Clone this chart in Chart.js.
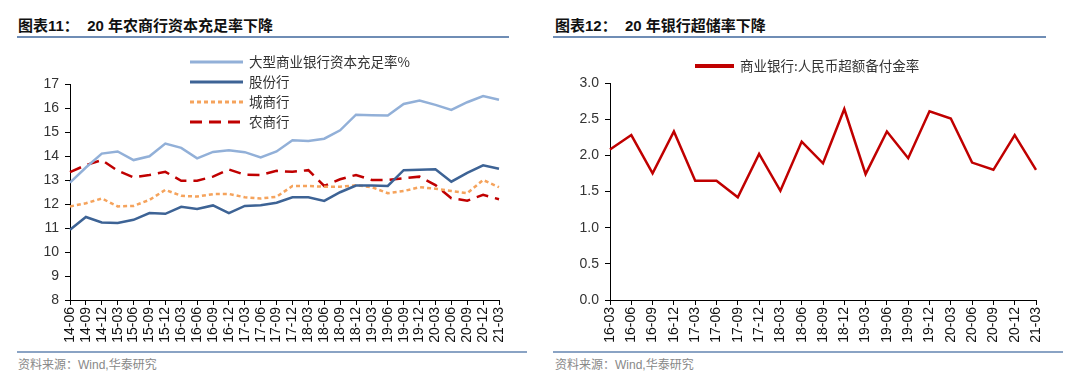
<!DOCTYPE html>
<html>
<head>
<meta charset="utf-8">
<script src="https://cdn.jsdelivr.net/npm/chart.js@4"></script>
<style>
  body { margin: 0; width: 1080px; height: 384px; background: #fff; position: relative; overflow: hidden;
         font-family: "Liberation Sans", "Noto Sans CJK SC", sans-serif; }
  .title { position: absolute; top: 17px; height: 18px; line-height: 18px; font-size: 15px; font-weight: bold; color: #111; }
  .rule { position: absolute; height: 2px; background: #6f8db5; }
  .rule.thin { height: 1.5px; background: #8aa3c4; }
  .src { position: absolute; top: 355px; font-size: 12px; color: #888; }
  canvas { position: absolute; }
</style>
</head>
<body>
<div class="title" style="left:18px">图表11：&nbsp; 20 年农商行资本充足率下降</div>
<div class="rule" style="left:17px; width:492px; top:36px"></div>
<div class="title" style="left:555px">图表12：&nbsp; 20 年银行超储率下降</div>
<div class="rule" style="left:553px; width:493px; top:36px"></div>

<canvas id="left" width="540" height="310" style="left:0; top:40px"></canvas>
<canvas id="right" width="540" height="310" style="left:540px; top:40px"></canvas>

<div class="rule thin" style="left:17px; width:510px; top:351px"></div>
<div class="src" style="left:18px">资料来源：Wind,华泰研究</div>
<div class="rule thin" style="left:553px; width:510px; top:351px"></div>
<div class="src" style="left:555px">资料来源：Wind,华泰研究</div>

<script>
// Capital adequacy by bank type, quarterly 2014-06 .. 2021-03
const quarters = ["14-06","14-09","14-12","15-03","15-06","15-09","15-12","16-03","16-06","16-09",
  "16-12","17-03","17-06","17-09","17-12","18-03","18-06","18-09","18-12","19-03","19-06","19-09",
  "19-12","20-03","20-06","20-09","20-12","21-03"];
const bigBanks = [12.89,13.52,14.10,14.19,13.83,13.99,14.52,14.34,13.90,14.17,14.24,14.16,13.94,14.19,
  14.66,14.63,14.72,15.07,15.72,15.70,15.69,16.17,16.31,16.13,15.92,16.24,16.50,16.34];
const jointStock = [10.93,11.46,11.23,11.21,11.34,11.62,11.59,11.88,11.79,11.94,11.62,11.92,11.95,12.05,
  12.28,12.28,12.13,12.49,12.77,12.77,12.75,13.41,13.43,13.45,12.93,13.30,13.61,13.47];
const cityBanks = [11.90,12.03,12.23,11.90,11.92,12.17,12.59,12.34,12.31,12.41,12.42,12.28,12.23,12.30,
  12.75,12.75,12.72,12.72,12.78,12.70,12.45,12.54,12.70,12.64,12.54,12.45,13.00,12.70];
const ruralBanks = [13.33,13.62,13.83,13.39,13.11,13.21,13.34,12.97,12.97,13.14,13.44,13.22,13.21,13.38,
  13.34,13.41,12.75,13.03,13.21,13.00,13.00,13.07,13.14,12.79,12.24,12.14,12.38,12.20];

// Excess reserve ratio, quarterly 2016-03 .. 2021-03
const quartersR = ["16-03","16-06","16-09","16-12","17-03","17-06","17-09","17-12","18-03","18-06",
  "18-09","18-12","19-03","19-06","19-09","19-12","20-03","20-06","20-09","20-12","21-03"];
const excessReserve = [2.08,2.28,1.75,2.33,1.65,1.65,1.42,2.02,1.51,2.19,1.89,2.64,1.74,2.33,1.96,2.61,
  2.51,1.90,1.80,2.28,1.80];

const tickFont = { family: "Liberation Sans", size: 14 };

// legend drawn inside the plot, one row per dataset
const lineLegend = {
  id: "lineLegend",
  afterDraw(chart, args, o) {
    const ctx = chart.ctx;
    ctx.save();
    chart.data.datasets.forEach((ds, i) => {
      const y = o.y + i * o.rowH;
      ctx.beginPath();
      ctx.setLineDash(ds.borderDash || []);
      ctx.lineWidth = o.lineWidth || ds.borderWidth;
      ctx.strokeStyle = ds.borderColor;
      ctx.moveTo(o.x, y);
      ctx.lineTo(o.x + o.len, y);
      ctx.stroke();
      ctx.setLineDash([]);
      ctx.fillStyle = "#333";
      ctx.font = "13.5px 'Noto Sans CJK SC'";
      ctx.textBaseline = "middle";
      ctx.fillText(ds.label, o.x + o.len + o.gap, y);
    });
    ctx.restore();
  },
};

function axes(min, max, step, fmt) {
  return {
    x: {
      offset: false,
      grid: { drawOnChartArea: false, color: "#000", tickLength: 5 },
      border: { color: "#000" },
      ticks: { autoSkip: false, minRotation: 90, maxRotation: 90, padding: 2, color: "#111",
               font: { family: "Liberation Sans", size: 14 } },
      afterFit: (s) => { s.height = 50; },
    },
    y: {
      min, max,
      grid: { drawOnChartArea: false, color: "#000", tickLength: 5 },
      border: { color: "#000" },
      ticks: { stepSize: step, color: "#333", font: tickFont, padding: 6, callback: fmt },
      afterFit: (s) => { s.width = 70; },
    },
  };
}

new Chart(document.getElementById("left"), {
  type: "line",
  data: {
    labels: quarters,
    datasets: [
      { label: "大型商业银行资本充足率%", data: bigBanks, borderColor: "#92b0d8", borderWidth: 2.5 },
      { label: "股份行", data: jointStock, borderColor: "#3d6395", borderWidth: 2.5 },
      { label: "城商行", data: cityBanks, borderColor: "#f5a35c", borderWidth: 2.5, borderDash: [4, 3] },
      { label: "农商行", data: ruralBanks, borderColor: "#c00000", borderWidth: 2.5, borderDash: [12, 7] },
    ],
  },
  options: {
    responsive: false,
    animation: false,
    layout: { padding: { top: 44, right: 41, left: 0, bottom: 0 } },
    elements: { point: { radius: 0 }, line: { tension: 0 } },
    plugins: {
      legend: { display: false },
      tooltip: { enabled: false },
      lineLegend: { x: 190, y: 22, rowH: 20, len: 53, gap: 6, lineWidth: 3 },
    },
    scales: axes(8, 17, 1),
  },
  plugins: [lineLegend],
});

new Chart(document.getElementById("right"), {
  type: "line",
  data: {
    labels: quartersR,
    datasets: [
      { label: "商业银行:人民币超额备付金率", data: excessReserve, borderColor: "#c00000", borderWidth: 2.5 },
    ],
  },
  options: {
    responsive: false,
    animation: false,
    layout: { padding: { top: 43, right: 44, left: 0, bottom: 0 } },
    elements: { point: { radius: 0 }, line: { tension: 0 } },
    plugins: {
      legend: { display: false },
      tooltip: { enabled: false },
      lineLegend: { x: 155, y: 26, rowH: 20, len: 39, gap: 6, lineWidth: 4 },
    },
    scales: axes(0, 3, 0.5, (v) => v.toFixed(1)),
  },
  plugins: [lineLegend],
});
</script>
</body>
</html>
